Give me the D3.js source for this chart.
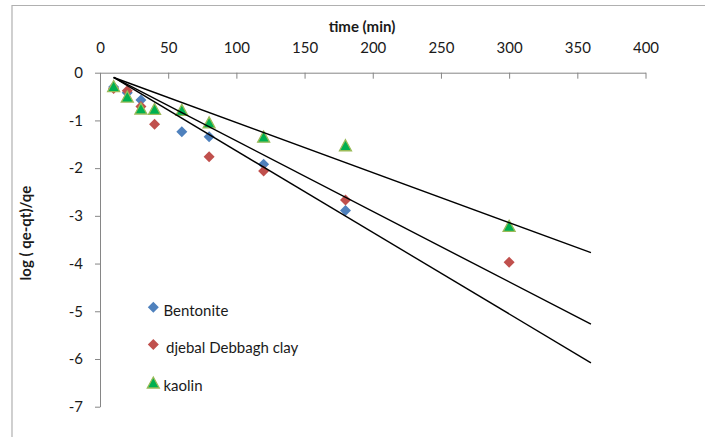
<!DOCTYPE html>
<html>
<head>
<meta charset="utf-8">
<script src="https://cdn.jsdelivr.net/npm/d3@7"></script>
<style>
  html, body { margin: 0; padding: 0; background: #fff; }
  svg { display: block; }
  text { font-family: Lato, "Open Sans", sans-serif; fill: #1a1a1a; }
</style>
</head>
<body>
<svg id="chart" width="705" height="437"></svg>
<script>
// ---- data ----
const times = [10, 20, 30, 40, 60, 80, 120, 180, 300];
const bentonite = [-0.30, -0.42, -0.57, null, -1.24, -1.34, -1.92, -2.89, null];
const djebal = [-0.33, -0.38, -0.71, -1.08, null, -1.76, -2.06, -2.67, -3.97];
const kaolin = [-0.28, -0.50, -0.75, -0.76, -0.78, -1.04, -1.34, -1.52, -3.21];
const fitTimes = [10, 360];
const fitBentonite = [-0.10, -6.08];
const fitDjebal = [-0.10, -5.27];
const fitKaolin = [-0.10, -3.77];
const seriesNames = ["Bentonite", "djebal Debbagh clay", "kaolin"];
const xTicks = [0, 50, 100, 150, 200, 250, 300, 350, 400];
const yTicks = [0, -1, -2, -3, -4, -5, -6, -7];
const xTitle = "time (min)";
const yTitle = "log ( qe-qt)/qe";

// ---- layout ----
const svg = d3.select("#chart");
const x = d3.scaleLinear().domain([0, 400]).range([100, 645.5]);
const y = d3.scaleLinear().domain([0, -7]).range([72.7, 406.7]);
const axisColor = "#868686";

// outer chart border (top + left visible)
svg.append("line").attr("x1", 12).attr("x2", 705).attr("y1", 5.5).attr("y2", 5.5)
  .attr("stroke", "#b0b0b0").attr("stroke-width", 1.2);
svg.append("line").attr("x1", 12).attr("x2", 12).attr("y1", 5).attr("y2", 437)
  .attr("stroke", "#b0b0b0").attr("stroke-width", 1.2);

// x axis at top, ticks pointing down
const xAxis = d3.axisTop(x).tickValues(xTicks).tickSizeInner(-6).tickSizeOuter(0).tickPadding(20);
const gx = svg.append("g").attr("transform", `translate(0,${y(0)})`).call(xAxis);
gx.select(".domain").attr("stroke", axisColor);
gx.selectAll(".tick line").attr("stroke", axisColor);
gx.selectAll(".tick text").attr("font-size", 15).attr("font-family", "Lato").attr("fill", "#1a1a1a");

// y axis
const yAxis = d3.axisLeft(y).tickValues(yTicks).tickSizeInner(5).tickSizeOuter(0).tickPadding(12)
  .tickFormat(d => d === 0 ? "0" : d3.format("d")(d).replace("−", "-"));
const gy = svg.append("g").attr("transform", `translate(${x(0)},0)`).call(yAxis);
gy.select(".domain").attr("stroke", axisColor);
gy.selectAll(".tick line").attr("stroke", axisColor);
gy.selectAll(".tick text").attr("font-size", 15).attr("font-family", "Lato").attr("fill", "#1a1a1a");

// titles
svg.append("text").attr("x", 362).attr("y", 32).attr("text-anchor", "middle")
  .attr("font-size", 15).attr("font-weight", "bold").text(xTitle);
svg.append("text").attr("transform", "translate(31,233) rotate(-90)").attr("text-anchor", "middle")
  .attr("font-size", 15).attr("font-weight", "bold").text(yTitle);

// markers
const diamond = s => `M0,${-s}L${s},0L0,${s}L${-s},0Z`;
const triangle = (w, h) => `M0,${-h/2}L${w/2},${h/2}L${-w/2},${h/2}Z`;

function drawDiamonds(vals, color) {
  const pts = times.map((t, i) => ({ t, v: vals[i] })).filter(d => d.v !== null);
  svg.append("g").selectAll("path").data(pts).join("path")
    .attr("transform", d => `translate(${x(d.t)},${y(d.v)})`)
    .attr("d", diamond(5.5)).attr("fill", color);
}
drawDiamonds(bentonite, "#4F81BD");
drawDiamonds(djebal, "#C0504D");
{
  const pts = times.map((t, i) => ({ t, v: kaolin[i] })).filter(d => d.v !== null);
  svg.append("g").selectAll("path").data(pts).join("path")
    .attr("transform", d => `translate(${x(d.t)},${y(d.v)})`)
    .attr("d", triangle(12, 11)).attr("fill", "#00B050")
    .attr("stroke", "#9BBB59").attr("stroke-width", 1.3).attr("stroke-linejoin", "miter");
}

// trend lines
const line = d3.line().x(d => x(d[0])).y(d => y(d[1]));
[fitBentonite, fitDjebal, fitKaolin].forEach(f => {
  svg.append("path").attr("d", line(fitTimes.map((t, i) => [t, f[i]])))
    .attr("fill", "none").attr("stroke", "#000").attr("stroke-width", 1.4);
});

// legend
const lg = svg.append("g");
const rows = [
  { name: seriesNames[0], y: 307.3, type: "d", color: "#4F81BD", tx: 163.5 },
  { name: seriesNames[1], y: 344.5, type: "d", color: "#C0504D", tx: 166 },
  { name: seriesNames[2], y: 382.5, type: "t", color: "#00B050", tx: 163.5 }
];
rows.forEach(r => {
  const m = lg.append("path").attr("transform", `translate(153.3,${r.y})`);
  if (r.type === "d") m.attr("d", diamond(5.5)).attr("fill", r.color);
  else m.attr("d", triangle(12, 11)).attr("fill", r.color).attr("stroke", "#9BBB59").attr("stroke-width", 1.3);
  lg.append("text").attr("x", r.tx).attr("y", r.y + 8.5).attr("font-size", 15).text(r.name);
});
</script>
</body>
</html>
